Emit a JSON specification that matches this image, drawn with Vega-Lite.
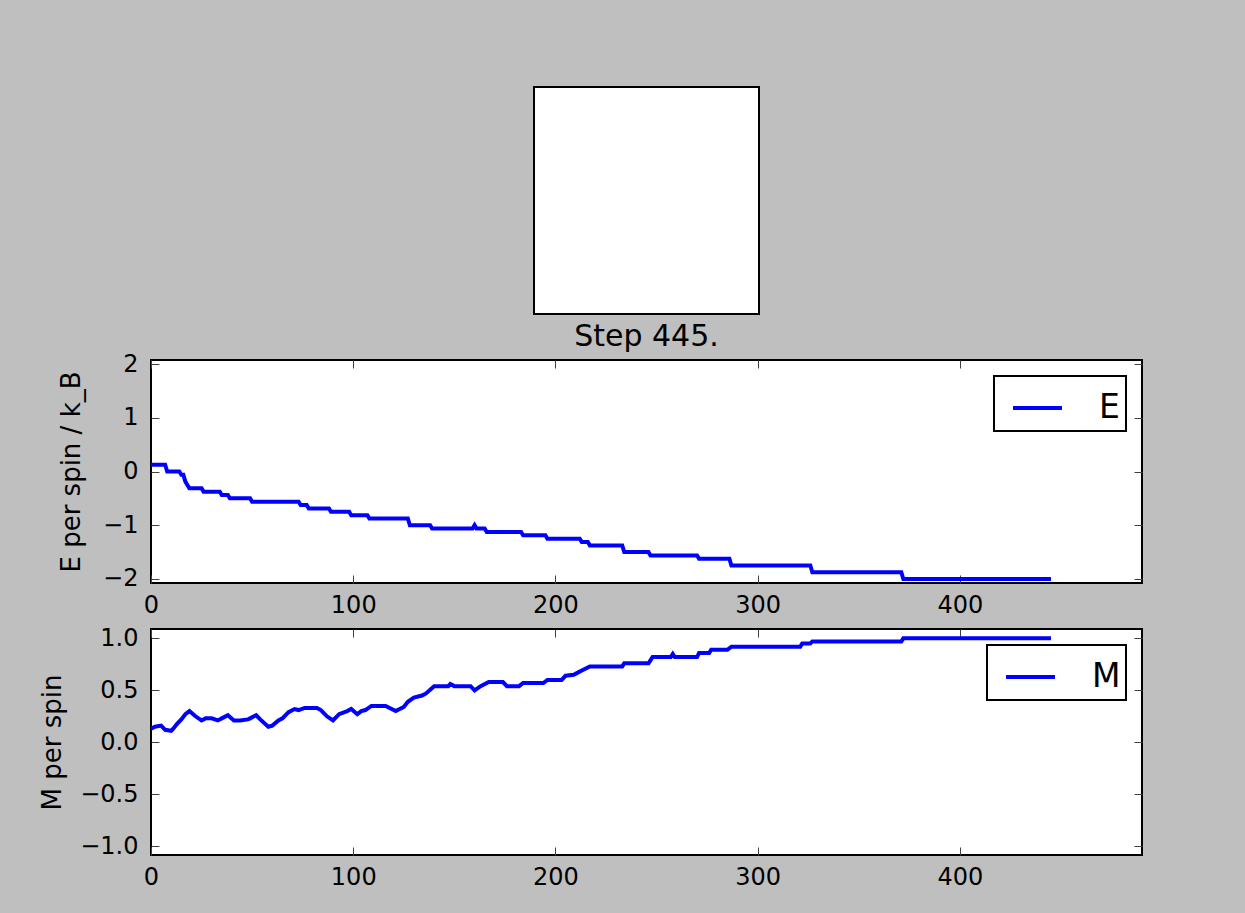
{
  "$schema": "https://vega.github.io/schema/vega-lite/v6.json",
  "background": "#bfbfbf",
  "padding": {"left": 38, "top": 86, "right": 102, "bottom": 26},
  "bounds": "flush",
  "center": true,
  "spacing": 46,
  "config": {
    "font": "DejaVu Sans",
    "view": {"fill": "white", "stroke": "black", "strokeWidth": 2},
    "axis": {
      "grid": false,
      "domain": false,
      "labelFlush": false,
      "tickColor": "#404040",
      "tickSize": -8,
      "tickWidth": 1,
      "labelFont": "DejaVu Sans",
      "labelFontSize": 24,
      "labelColor": "black",
      "titleFont": "DejaVu Sans",
      "titleFontSize": 26,
      "titleFontWeight": "normal",
      "titleColor": "black"
    },
    "legend": {
      "orient": "top-right",
      "offset": 16,
      "padding": 5.5,
      "fillColor": "white",
      "strokeColor": "black",
      "symbolType": "stroke",
      "symbolSize": 2401,
      "symbolStrokeWidth": 4,
      "labelFont": "DejaVu Sans",
      "labelFontSize": 33,
      "labelColor": "black",
      "labelOffset": 35,
      "symbolOffset": 11.5,
      "labelExpr": "datum.label + '\u2009\u200a'"
    }
  },
  "resolve": {"scale": {"color": "independent"}, "legend": {"color": "independent"}},
  "vconcat": [
    {
      "width": 225,
      "height": 227,
      "data": {"values": [{"v": 0}]},
      "mark": {"type": "point", "opacity": 0},
      "encoding": {
        "x": {"field": "v", "type": "quantitative", "axis": null},
        "y": {"field": "v", "type": "quantitative", "axis": null}
      }
    },
    {
      "width": 991,
      "height": 223,
      "title": {"text": "Step 445.", "fontSize": 30, "fontWeight": "normal", "color": "black", "font": "DejaVu Sans", "anchor": "middle", "baseline": "alphabetic", "offset": -24},
      "data": {"values": [
        {"step": 0, "E": 0.125}, {"step": 7, "E": 0.125}, {"step": 8, "E": 0}, {"step": 14, "E": 0},
        {"step": 15, "E": -0.0625}, {"step": 16, "E": -0.0625}, {"step": 17, "E": -0.1875}, {"step": 18, "E": -0.25},
        {"step": 19, "E": -0.3125}, {"step": 25, "E": -0.3125}, {"step": 26, "E": -0.375}, {"step": 34, "E": -0.375},
        {"step": 35, "E": -0.4375}, {"step": 38, "E": -0.4375}, {"step": 39, "E": -0.5}, {"step": 49, "E": -0.5},
        {"step": 50, "E": -0.5625}, {"step": 73, "E": -0.5625}, {"step": 74, "E": -0.625}, {"step": 77, "E": -0.625},
        {"step": 78, "E": -0.6875}, {"step": 88, "E": -0.6875}, {"step": 89, "E": -0.75}, {"step": 98, "E": -0.75},
        {"step": 99, "E": -0.8125}, {"step": 107, "E": -0.8125}, {"step": 108, "E": -0.875}, {"step": 127, "E": -0.875},
        {"step": 128, "E": -1.0}, {"step": 138, "E": -1.0}, {"step": 139, "E": -1.0625}, {"step": 159, "E": -1.0625},
        {"step": 160, "E": -1.0}, {"step": 161, "E": -1.0625}, {"step": 165, "E": -1.0625}, {"step": 166, "E": -1.125},
        {"step": 183, "E": -1.125}, {"step": 184, "E": -1.1875}, {"step": 195, "E": -1.1875}, {"step": 196, "E": -1.25},
        {"step": 212, "E": -1.25}, {"step": 213, "E": -1.3125}, {"step": 216, "E": -1.3125}, {"step": 217, "E": -1.375},
        {"step": 233, "E": -1.375}, {"step": 234, "E": -1.5}, {"step": 246, "E": -1.5}, {"step": 247, "E": -1.5625},
        {"step": 270, "E": -1.5625}, {"step": 271, "E": -1.625}, {"step": 286, "E": -1.625}, {"step": 287, "E": -1.75},
        {"step": 326, "E": -1.75}, {"step": 327, "E": -1.875}, {"step": 371, "E": -1.875}, {"step": 372, "E": -2.0},
        {"step": 445, "E": -2.0}
      ]},
      "layer": [
        {
          "mark": {"type": "line", "strokeWidth": 4, "clip": true},
          "encoding": {
            "x": {"field": "step", "type": "quantitative", "scale": {"domain": [0, 490], "nice": false, "zero": false},
                  "axis": {"values": [0, 100, 200, 300, 400], "title": null, "labelPadding": 18}},
            "y": {"field": "E", "type": "quantitative", "scale": {"domain": [-2.075, 2.075], "nice": false, "zero": false},
                  "axis": {"values": [-2, -1, 0, 1, 2], "title": "E per spin / k_B", "labelPadding": 21, "titlePadding": 18}},
            "color": {"datum": "E", "type": "nominal", "scale": {"range": ["#0000ff"]},
                      "legend": {"title": null, "encode": {"legend": {"update": {"strokeWidth": {"value": 2}}}}}}
          }
        },
        {
          "mark": {"type": "line", "strokeOpacity": 0},
          "encoding": {
            "x": {"field": "step", "type": "quantitative", "axis": {"orient": "top", "values": [0, 100, 200, 300, 400], "labels": false, "title": null}},
            "y": {"field": "E", "type": "quantitative", "axis": {"orient": "right", "values": [-2, -1, 0, 1, 2], "labels": false, "title": null}}
          }
        }
      ],
      "resolve": {"axis": {"x": "independent", "y": "independent"}}
    },
    {
      "width": 991,
      "height": 226,
      "data": {"values": [
        {"step": 0, "M": 0.13}, {"step": 2, "M": 0.15}, {"step": 5, "M": 0.16}, {"step": 7, "M": 0.12},
        {"step": 10, "M": 0.11}, {"step": 11, "M": 0.13}, {"step": 13, "M": 0.18}, {"step": 15, "M": 0.22},
        {"step": 17, "M": 0.27}, {"step": 19, "M": 0.3}, {"step": 22, "M": 0.25}, {"step": 25, "M": 0.21},
        {"step": 27, "M": 0.23}, {"step": 30, "M": 0.23}, {"step": 33, "M": 0.21}, {"step": 35, "M": 0.23},
        {"step": 38, "M": 0.26}, {"step": 41, "M": 0.21}, {"step": 44, "M": 0.21}, {"step": 48, "M": 0.22},
        {"step": 49, "M": 0.23}, {"step": 52, "M": 0.26}, {"step": 54, "M": 0.22}, {"step": 58, "M": 0.15},
        {"step": 60, "M": 0.16}, {"step": 63, "M": 0.21}, {"step": 65, "M": 0.23}, {"step": 68, "M": 0.29},
        {"step": 71, "M": 0.32}, {"step": 73, "M": 0.31}, {"step": 76, "M": 0.33}, {"step": 79, "M": 0.33},
        {"step": 82, "M": 0.33}, {"step": 84, "M": 0.31}, {"step": 87, "M": 0.25}, {"step": 90, "M": 0.21},
        {"step": 93, "M": 0.27}, {"step": 97, "M": 0.3}, {"step": 99, "M": 0.32}, {"step": 102, "M": 0.27},
        {"step": 104, "M": 0.3}, {"step": 106, "M": 0.31}, {"step": 109, "M": 0.35}, {"step": 116, "M": 0.35},
        {"step": 119, "M": 0.32}, {"step": 121, "M": 0.3}, {"step": 125, "M": 0.34}, {"step": 127, "M": 0.39},
        {"step": 130, "M": 0.43}, {"step": 134, "M": 0.45}, {"step": 136, "M": 0.47}, {"step": 140, "M": 0.54},
        {"step": 147, "M": 0.54}, {"step": 148, "M": 0.56}, {"step": 150, "M": 0.54}, {"step": 158, "M": 0.54},
        {"step": 160, "M": 0.5}, {"step": 163, "M": 0.54}, {"step": 167, "M": 0.58}, {"step": 174, "M": 0.58},
        {"step": 176, "M": 0.54}, {"step": 182, "M": 0.54}, {"step": 184, "M": 0.57}, {"step": 194, "M": 0.57},
        {"step": 196, "M": 0.6}, {"step": 203, "M": 0.6}, {"step": 205, "M": 0.64}, {"step": 209, "M": 0.65},
        {"step": 211, "M": 0.67}, {"step": 213, "M": 0.69}, {"step": 217, "M": 0.73}, {"step": 233, "M": 0.73},
        {"step": 234, "M": 0.76}, {"step": 246, "M": 0.76}, {"step": 248, "M": 0.82}, {"step": 257, "M": 0.82},
        {"step": 258, "M": 0.85}, {"step": 259, "M": 0.82}, {"step": 270, "M": 0.82}, {"step": 271, "M": 0.86},
        {"step": 276, "M": 0.86}, {"step": 277, "M": 0.89}, {"step": 285, "M": 0.89}, {"step": 287, "M": 0.92},
        {"step": 321, "M": 0.92}, {"step": 322, "M": 0.95}, {"step": 326, "M": 0.95}, {"step": 327, "M": 0.97},
        {"step": 371, "M": 0.97}, {"step": 372, "M": 1.0}, {"step": 445, "M": 1.0}
      ]},
      "layer": [
        {
          "mark": {"type": "line", "strokeWidth": 4, "clip": true},
          "encoding": {
            "x": {"field": "step", "type": "quantitative", "scale": {"domain": [0, 490], "nice": false, "zero": false},
                  "axis": {"values": [0, 100, 200, 300, 400], "title": null, "labelPadding": 18}},
            "y": {"field": "M", "type": "quantitative", "scale": {"domain": [-1.085, 1.09], "nice": false, "zero": false},
                  "axis": {"values": [-1, -0.5, 0, 0.5, 1], "format": ".1f", "title": "M per spin", "labelPadding": 21, "titlePadding": 14}},
            "color": {"datum": "M", "type": "nominal", "scale": {"range": ["#0000ff"]},
                      "legend": {"title": null, "encode": {"legend": {"update": {"strokeWidth": {"value": 2}}}}}}
          }
        },
        {
          "mark": {"type": "line", "strokeOpacity": 0},
          "encoding": {
            "x": {"field": "step", "type": "quantitative", "axis": {"orient": "top", "values": [0, 100, 200, 300, 400], "labels": false, "title": null}},
            "y": {"field": "M", "type": "quantitative", "axis": {"orient": "right", "values": [-1, -0.5, 0, 0.5, 1], "labels": false, "title": null}}
          }
        }
      ],
      "resolve": {"axis": {"x": "independent", "y": "independent"}}
    }
  ]
}
